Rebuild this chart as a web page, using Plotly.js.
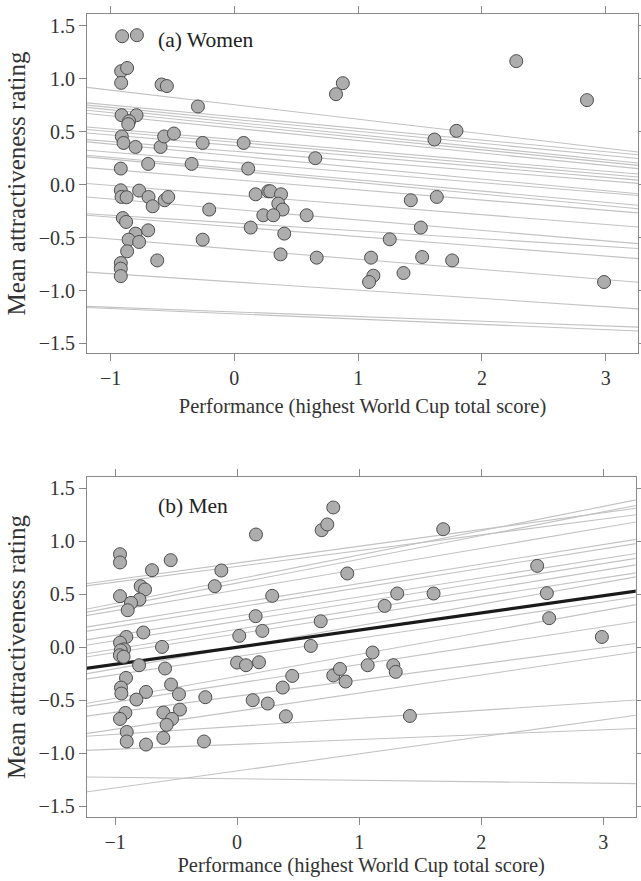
<!DOCTYPE html>
<html>
<head>
<meta charset="utf-8">
<script src="https://cdn.plot.ly/plotly-3.0.1.min.js"></script>
<style>html,body{margin:0;padding:0;background:#fff;}#chart{width:641px;height:881px;}</style>
</head>
<body>
<div id="chart"></div>
<script>
// ---- Women (panel a) ----
var womenX = [-0.906,-0.787,-0.914,-0.866,-0.914,-0.588,-0.545,-0.294,-0.911,-0.79,-0.85,-0.857,-0.909,-0.895,-0.798,-0.596,-0.567,-0.488,-0.256,0.075,0.112,-0.345,-0.696,-0.917,0.654,0.821,0.876,
  -0.917,-0.911,-0.87,-0.769,-0.693,-0.66,-0.563,-0.534,-0.901,-0.874,-0.798,-0.696,-0.854,-0.769,-0.866,-0.623,-0.917,-0.917,-0.917,-0.256,-0.203,0.172,0.274,0.29,0.377,0.355,0.39,0.234,0.315,0.132,0.403,0.373,0.584,0.665,
  2.277,2.848,1.794,1.616,1.425,1.635,1.506,1.255,1.104,1.517,1.759,1.123,1.088,1.366,2.986];
var womenY = [1.40,1.41,1.07,1.10,0.96,0.945,0.93,0.737,0.655,0.655,0.598,0.57,0.454,0.393,0.355,0.355,0.454,0.482,0.393,0.393,0.151,0.195,0.195,0.151,0.249,0.853,0.957,
  -0.054,-0.117,-0.12,-0.057,-0.117,-0.205,-0.148,-0.117,-0.316,-0.353,-0.463,-0.432,-0.52,-0.542,-0.63,-0.716,-0.741,-0.794,-0.864,-0.52,-0.236,-0.092,-0.063,-0.063,-0.092,-0.18,-0.236,-0.29,-0.29,-0.406,-0.463,-0.659,-0.29,-0.69,
  1.165,0.797,0.507,0.425,-0.148,-0.117,-0.406,-0.517,-0.69,-0.684,-0.716,-0.86,-0.92,-0.835,-0.92];
// per-participant fitted lines (intercept at x = 0, slope)
var womenIntercepts = [0.754,0.640,0.615,0.588,0.562,0.532,0.425,0.400,0.368,0.314,0.272,0.210,0.150,0.130,0.046,-0.100,-0.235,-0.363,-0.399,-0.609,-0.919,-1.202,-1.220];
var womenSlopes = [-0.137,-0.110,-0.113,-0.118,-0.117,-0.117,-0.100,-0.101,-0.100,-0.093,-0.110,-0.096,-0.106,-0.110,-0.096,-0.092,-0.099,-0.074,-0.092,-0.096,-0.078,-0.044,-0.050];

// ---- Men (panel b) ----
var menX = [0.788,0.693,0.739,0.155,-0.959,-0.959,-0.544,-0.697,-0.129,-0.183,-0.79,-0.754,-0.959,-0.80,-0.869,-0.896,0.288,0.903,0.152,0.685,0.207,-0.768,-0.907,0.018,-0.959,-0.615,
  -0.926,-0.953,-0.96,-0.93,0.604,-0.803,0.0,0.073,0.18,-0.59,-0.91,-0.541,-0.951,-0.746,-0.948,-0.476,-0.825,-0.26,0.128,0.251,0.452,0.374,0.40,0.788,0.843,0.889,
  -0.604,-0.468,-0.533,-0.577,-0.915,-0.959,-0.904,-0.904,-0.746,-0.604,-0.271,
  1.689,2.459,1.312,1.61,2.538,1.209,2.557,2.989,1.11,1.07,1.28,1.30,1.416];
var menY = [1.319,1.105,1.159,1.064,0.878,0.80,0.822,0.727,0.724,0.576,0.576,0.545,0.482,0.45,0.418,0.349,0.485,0.696,0.293,0.245,0.154,0.139,0.097,0.107,0.044,0.003,
  -0.02,-0.03,-0.076,-0.09,0.012,-0.17,-0.145,-0.17,-0.142,-0.201,-0.29,-0.352,-0.381,-0.422,-0.437,-0.444,-0.494,-0.472,-0.50,-0.532,-0.271,-0.381,-0.652,-0.267,-0.205,-0.324,
  -0.617,-0.589,-0.677,-0.733,-0.62,-0.677,-0.80,-0.89,-0.919,-0.856,-0.89,
  1.114,0.768,0.507,0.507,0.51,0.39,0.274,0.097,-0.05,-0.17,-0.17,-0.233,-0.649];
var menIntercepts = [0.795,0.763,0.642,0.606,0.541,0.417,0.377,0.293,0.244,0.169,0.126,0.000,-0.088,-0.275,-0.341,-0.462,-0.604,-0.747,-0.917,-1.242,-1.168];
var menSlopes = [0.158,0.149,0.229,0.224,0.196,0.184,0.184,0.181,0.182,0.186,0.176,0.203,0.172,0.207,0.178,0.152,0.171,0.076,0.046,-0.014,0.161];
var menFixedIntercept = 0.0;
var menFixedSlope = 0.162;

var xTicks = [-1, 0, 1, 2, 3];
var yTicks = [-1.5, -1.0, -0.5, 0.0, 0.5, 1.0, 1.5];
var xTitle = 'Performance (highest World Cup total score)';
var yTitle = 'Mean attractiveness rating';
var panelLabels = ['(a) Women', '(b) Men'];

// ---- build traces ----
var lineSpan = [-1.5, 3.5];
var traces = [];
function addLines(ints, slopes, xa, ya, color, width) {
  for (var i = 0; i < ints.length; i++) {
    traces.push({
      type: 'scatter', mode: 'lines', xaxis: xa, yaxis: ya,
      x: lineSpan, y: lineSpan.map(function (x) { return ints[i] + slopes[i] * x; }),
      line: {color: color, width: width}, hoverinfo: 'skip', showlegend: false
    });
  }
}
addLines(womenIntercepts, womenSlopes, 'x', 'y', '#c2c2c2', 1.1);
addLines(menIntercepts, menSlopes, 'x2', 'y2', '#c2c2c2', 1.1);
addLines([menFixedIntercept], [menFixedSlope], 'x2', 'y2', '#1a1a1a', 3.2);

var markerStyle = {symbol: 'circle', size: 13, color: '#adadad', line: {color: '#4d4d4d', width: 1}};
traces.push({type: 'scatter', mode: 'markers', x: womenX, y: womenY, xaxis: 'x', yaxis: 'y', marker: markerStyle, showlegend: false, cliponaxis: false});
traces.push({type: 'scatter', mode: 'markers', x: menX, y: menY, xaxis: 'x2', yaxis: 'y2', marker: markerStyle, showlegend: false, cliponaxis: false});

var FONT = 'Liberation Serif, Times New Roman, serif';
var axisCommon = {
  showline: true, linecolor: '#8a8a8a', linewidth: 1, mirror: 'ticks',
  ticks: 'outside', ticklen: 7, tickwidth: 1, tickcolor: '#8a8a8a',
  showgrid: false, zeroline: false, automargin: false,
  tickfont: {family: FONT, size: 20, color: '#333'}
};
function xa(domain, range, standoff) {
  return Object.assign({}, axisCommon, {
    domain: domain, range: range, tickvals: xTicks, tickformat: 'd',
    title: {text: xTitle, font: {family: FONT, size: 20.5, color: '#333'}, standoff: standoff}
  });
}
function ya(domain, range, anchor) {
  return Object.assign({}, axisCommon, {
    domain: domain, range: range, tickvals: yTicks, tickformat: '.1f', anchor: anchor,
    title: {text: yTitle, font: {family: FONT, size: 25, color: '#333'}, standoff: 5}
  });
}

var layout = {
  width: 641, height: 881,
  margin: {l: 0, r: 0, t: 0, b: 0},
  paper_bgcolor: '#fff', plot_bgcolor: '#fff',
  showlegend: false,
  xaxis: Object.assign(xa([87/641, 638/641], [-1.19, 3.26], 10), {anchor: 'y'}),
  yaxis: ya([1 - 353/881, 1 - 14/881], [-1.59, 1.61], 'x'),
  xaxis2: Object.assign(xa([86.7/641, 635.7/641], [-1.232, 3.266], 5), {anchor: 'y2'}),
  yaxis2: ya([1 - 816.7/881, 1 - 477.3/881], [-1.60, 1.604], 'x2'),
  annotations: [
    {xref: 'x', yref: 'y', x: -0.634, y: 1.364, text: panelLabels[0], showarrow: false, xanchor: 'left', yanchor: 'middle', font: {family: FONT, size: 21.5, color: '#222'}},
    {xref: 'x2', yref: 'y2', x: -0.664, y: 1.331, text: panelLabels[1], showarrow: false, xanchor: 'left', yanchor: 'middle', font: {family: FONT, size: 21.5, color: '#222'}}
  ]
};
Plotly.newPlot('chart', traces, layout, {staticPlot: true, displayModeBar: false});
</script>
</body>
</html>
